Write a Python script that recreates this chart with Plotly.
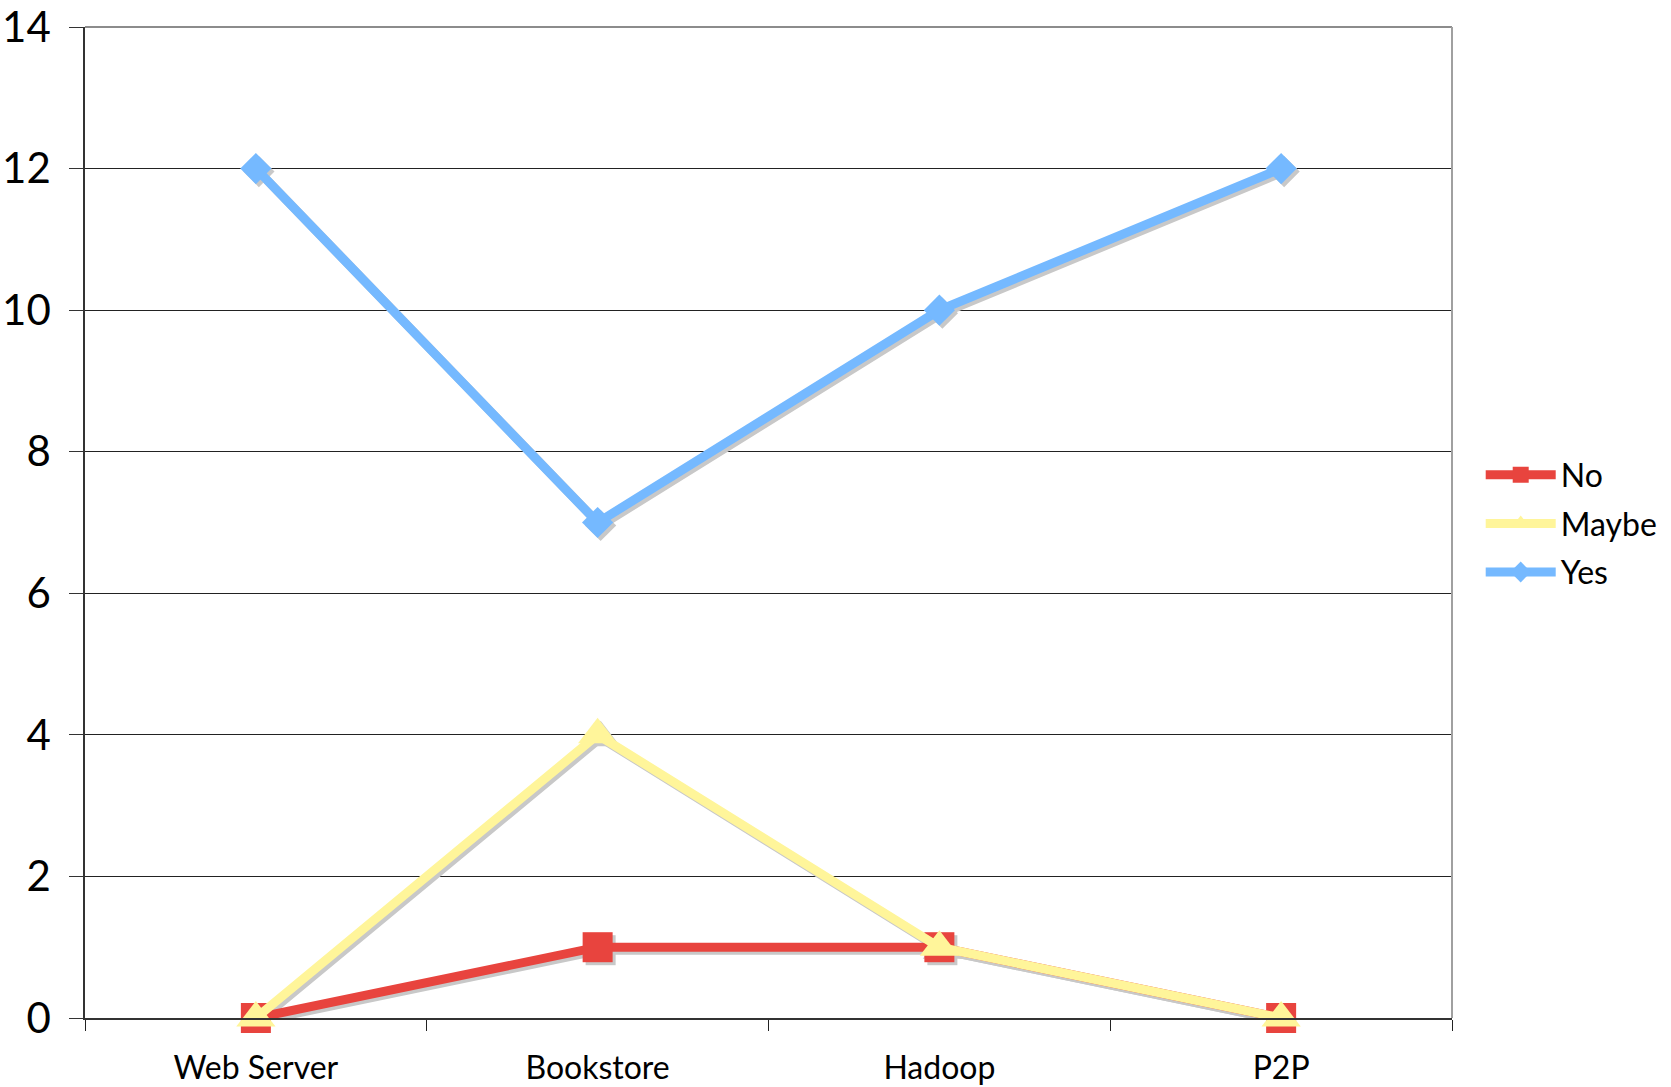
import plotly.graph_objects as go

categories = ["Web Server", "Bookstore", "Hadoop", "P2P"]
no_vals = [0, 1, 1, 0]
maybe_vals = [0, 4, 1, 0]
yes_vals = [12, 7, 10, 12]
y_ticks = [0, 2, 4, 6, 8, 10, 12, 14]

series = [
    ("No", no_vals, "#E8443E", "square", 30),
    ("Maybe", maybe_vals, "#FFF59A", "triangle-up", 34),
    ("Yes", yes_vals, "#75B9FF", "diamond", 24),
]

W, H = 1671, 1087
ml, mr, mt, mb = 85, 219, 27, 69
pw, ph = W - ml - mr, H - mt - mb
xr = [-0.5, 3.5]
yr = [0, 14]
sdx, sdy = 3, 3  # shadow offset in px
ex = sdx * (xr[1] - xr[0]) / pw
ey = sdy * (yr[1] - yr[0]) / ph
LW = 9

fig = go.Figure()
FONT = "Lato, 'Open Sans', sans-serif"

# invisible anchor trace so the base axes (grid, ticks) are drawn
fig.add_trace(go.Scatter(x=categories, y=no_vals, mode="markers", marker=dict(opacity=0),
                         showlegend=False, hoverinfo="skip"))
# shadows
for name, vals, color, sym, sz in series:
    fig.add_trace(go.Scatter(
        x=categories, y=vals, mode="lines+markers", xaxis="x2", yaxis="y2",
        line=dict(color="#C8C8C8", width=LW),
        marker=dict(symbol=sym, size=sz, color="#C8C8C8", line=dict(width=0)),
        showlegend=False, hoverinfo="skip", cliponaxis=False,
    ))
# main
for name, vals, color, sym, sz in series:
    fig.add_trace(go.Scatter(
        x=categories, y=vals, mode="lines+markers", name=name, xaxis="x3", yaxis="y3",
        legendgroup=name,
        line=dict(color=color, width=LW),
        marker=dict(symbol=sym, size=sz, color=color, line=dict(width=0)),
        cliponaxis=False,
    ))

fig.update_layout(
    width=W, height=H,
    margin=dict(l=ml, r=mr, t=mt, b=mb, pad=0, autoexpand=False),
    paper_bgcolor="white", plot_bgcolor="white",
    font=dict(family=FONT, color="black"),
    xaxis=dict(type="category", categoryarray=categories, range=xr, tickson="boundaries",
               ticks="outside", ticklen=11, tickcolor="#222", tickwidth=1,
               showline=True, linecolor="#333", linewidth=1.5, showgrid=False,
               tickfont=dict(size=32, family=FONT), zeroline=False,
               ticklabelstandoff=21, automargin=False),
    yaxis=dict(range=yr, tickvals=y_ticks, ticks="outside", ticklen=14, tickcolor="#333",
               showline=True, linecolor="#333", linewidth=1.5, showgrid=True,
               gridcolor="#222", gridwidth=1, zeroline=False,
               tickfont=dict(size=42, family=FONT), ticklabelstandoff=10, automargin=False),
    xaxis2=dict(type="category", categoryarray=categories, range=[xr[0] - ex, xr[1] - ex],
                overlaying="x", visible=False),
    yaxis2=dict(range=[yr[0] + ey, yr[1] + ey], overlaying="y", visible=False),
    xaxis3=dict(type="category", categoryarray=categories, range=xr, overlaying="x", visible=False),
    yaxis3=dict(range=yr, overlaying="y", visible=False),
    legend=dict(x=1.021, y=0.499, xanchor="left", yanchor="middle",
                font=dict(size=32, family=FONT), itemwidth=70,
                bgcolor="rgba(0,0,0,0)", tracegroupgap=4, traceorder="grouped"),
    shapes=[
        dict(type="line", xref="paper", yref="paper", x0=0, x1=1, y0=1, y1=1,
             line=dict(color="#8C8C8C", width=2)),
        dict(type="line", xref="paper", yref="paper", x0=1, x1=1, y0=0, y1=1,
             line=dict(color="#A0A0A0", width=2)),
    ],
)

fig.write_html("out.html")
